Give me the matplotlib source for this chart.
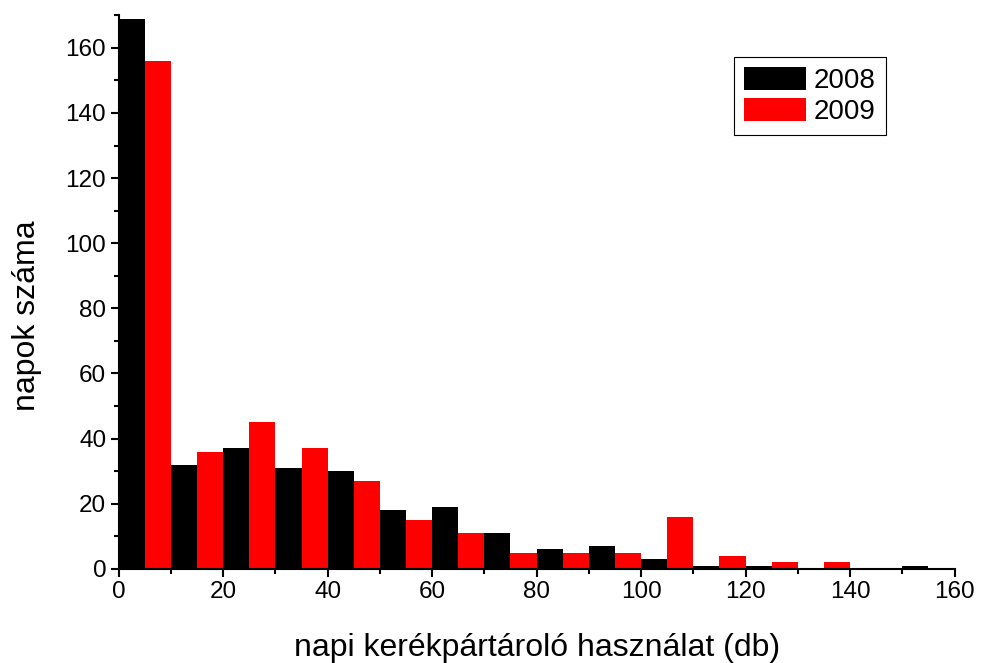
import numpy as np
import matplotlib.pyplot as plt
from matplotlib.ticker import MultipleLocator

plt.rcParams['font.family'] = ['Liberation Sans', 'DejaVu Sans']

# bin left edges (width 10), two bars per bin
bins = np.arange(0, 160, 10)
counts_2008 = [169, 32, 37, 31, 30, 18, 19, 11, 6, 7, 3, 1, 1, 0, 0, 1]
counts_2009 = [156, 36, 45, 37, 27, 15, 11, 5, 5, 5, 16, 4, 2, 2, 0, 0]

fig = plt.figure(figsize=(9.81, 6.63), dpi=100)
ax = fig.add_axes([0.121, 0.142, 0.852, 0.835])

ax.bar(bins, counts_2008, width=5, align='edge', color='black', linewidth=0, label='2008')
ax.bar(bins + 5, counts_2009, width=5, align='edge', color='#ff0000', linewidth=0, label='2009')

ax.set_xlim(0, 160)
ax.set_ylim(0, 170)
ax.xaxis.set_major_locator(MultipleLocator(20))
ax.xaxis.set_minor_locator(MultipleLocator(10))
ax.yaxis.set_major_locator(MultipleLocator(20))
ax.yaxis.set_minor_locator(MultipleLocator(10))
ax.tick_params(which='major', direction='out', length=6, width=1.5, labelsize=17.5, pad=3)
ax.tick_params(which='minor', direction='out', length=3.5, width=1.5)

for s in ['top', 'right']:
    ax.spines[s].set_visible(False)
for s in ['left', 'bottom']:
    ax.spines[s].set_linewidth(1.5)

ax.set_xlabel('napi kerékpártároló használat (db)', fontsize=23, labelpad=21)
ax.set_ylabel('napok száma', fontsize=23)
ax.yaxis.set_label_coords(-0.0915, 0.458)

leg = ax.legend(loc='upper right', bbox_to_anchor=(0.9175, 0.924), borderaxespad=0,
                fontsize=20, handlelength=2.23, handleheight=0.9, fancybox=False,
                framealpha=1, borderpad=0.35, labelspacing=0.15, handletextpad=0.3)
leg.get_frame().set_edgecolor('black')
leg.get_frame().set_linewidth(0.8)

fig.savefig('out.png', dpi=100)
